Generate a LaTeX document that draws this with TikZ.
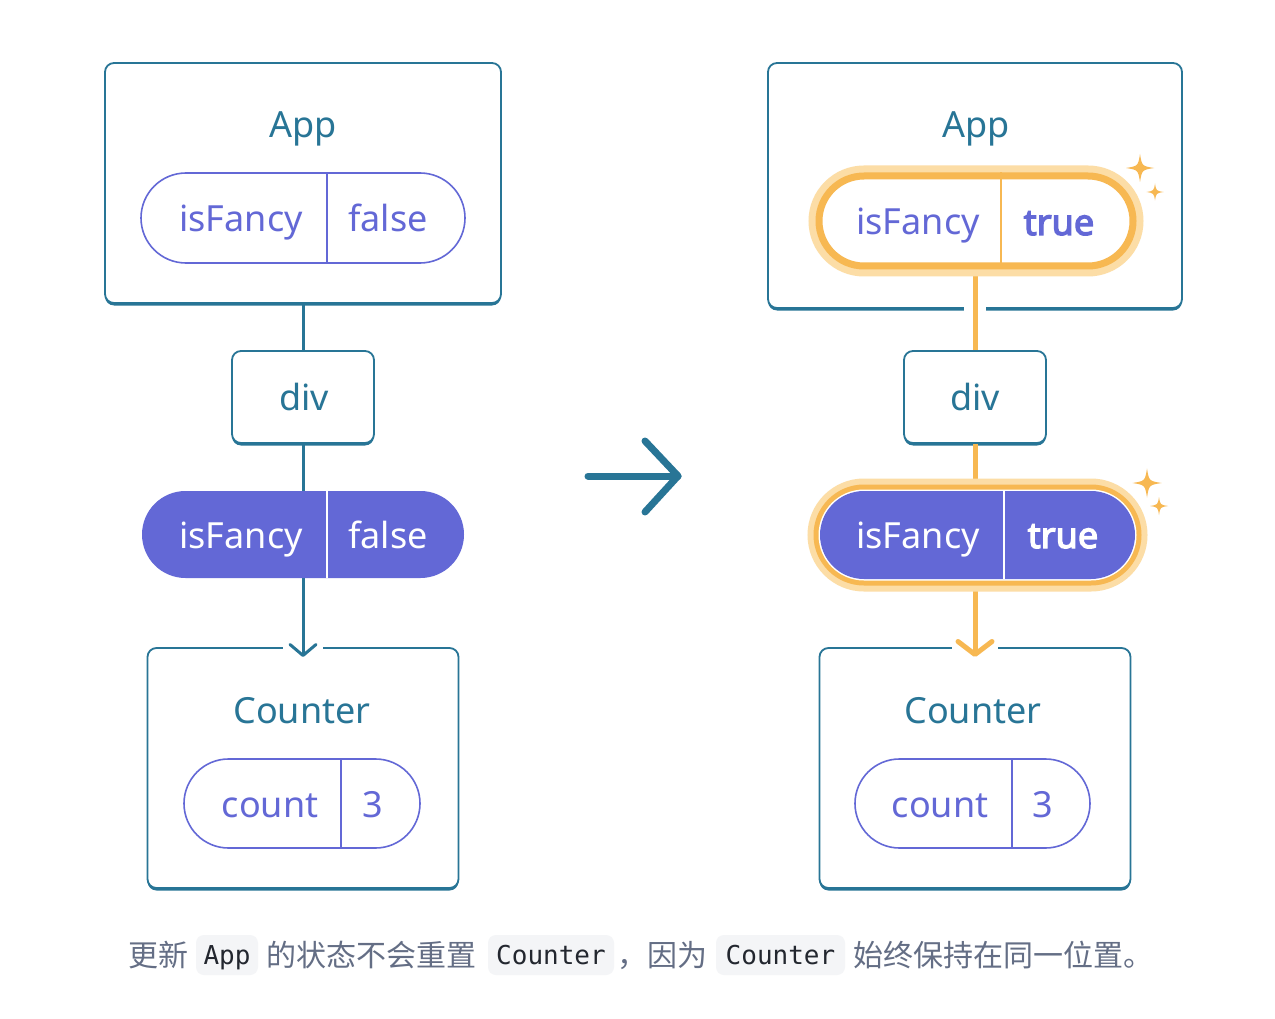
\documentclass[tikz,border=0pt]{standalone}
\usepackage{fontspec}
\setmainfont{Noto Sans}
\newfontfamily\boldlab{Noto Sans}[FakeBold=3.5]
\newfontfamily\cjkfont{Noto Sans CJK SC}
\newfontfamily\codefont{DejaVu Sans Mono}
\usetikzlibrary{shapes.misc,arrows.meta,shadows}
\definecolor{tblue}{RGB}{40,117,150}
\definecolor{tpurple}{RGB}{99,104,214}
\definecolor{torange}{RGB}{247,184,82}
\definecolor{tglow}{RGB}{252,221,166}
\definecolor{capgrey}{RGB}{100,110,133}
\definecolor{chipbg}{RGB}{244,245,247}
\definecolor{codetext}{RGB}{35,39,47}
\tikzset{
  box/.style={draw=tblue, fill=white, line width=1.8pt, rounded corners=9pt, inner sep=0pt,
    general shadow={fill=tblue, shadow yshift=-2.5pt}},
  lbl/.style={text=tblue, font=\fontsize{36}{40}\selectfont, inner sep=0pt, anchor=base},
  ptxt/.style={text=tpurple, font=\fontsize{36}{40}\selectfont, inner sep=0pt, anchor=base},
  wtxt/.style={text=white, font=\fontsize{36}{40}\selectfont, inner sep=0pt, anchor=base},
  btxt/.style={font=\boldlab\fontsize{36}{40}\selectfont},
  pill/.style={rounded rectangle, draw=tpurple, line width=1.6pt, fill=white, inner sep=0pt},
  fpill/.style={rounded rectangle, fill=tpurple, inner sep=0pt},
  conn/.style={draw=tblue, line width=3pt},
  oconn/.style={draw=torange, line width=5pt},
  captxt/.style={text=capgrey, font=\cjkfont\fontsize{30}{34}\selectfont, inner sep=0pt, anchor=base west},
  chip/.style={fill=chipbg, rounded corners=8pt, inner sep=0pt, minimum height=40pt,
    text=codetext, font=\codefont\fontsize{26}{30}\selectfont, text height=22pt, text depth=4pt},
  sparkle/.pic={\fill[torange] (0,-1) .. controls (0.14,-0.14) .. (1,0) .. controls (0.14,0.14) .. (0,1)
     .. controls (-0.14,0.14) .. (-1,0) .. controls (-0.14,-0.14) .. (0,-1) -- cycle;}
}
\begin{document}
\begin{tikzpicture}[x=1pt,y=-1pt]
\useasboundingbox[fill=white] (0,0) rectangle (1275,1019);

% ---------- boxes ----------
\node[box, minimum width=396pt, minimum height=240pt] (appL) at (303,183) {};
\node[box, minimum width=142pt, minimum height=92pt] (divL) at (303,397) {};
\node[box, minimum width=311pt, minimum height=240pt] (ctrL) at (303,768) {};
\node[box, minimum width=414pt, minimum height=245pt] (appR) at (975,185.5) {};
\node[box, minimum width=142pt, minimum height=92pt] (divR) at (975,397) {};
\node[box, minimum width=311pt, minimum height=240pt] (ctrR) at (975,768) {};

% gaps in box outlines
\fill[white] (283,643) rectangle (323,653);
\fill[white] (952,643) rectangle (998,653);
\fill[white] (964,302) rectangle (986,315);

% ---------- connectors ----------
\coordinate (tipL) at (303,657);
\coordinate (tipR) at (975,657);
\draw[conn] (appL.south) -- (divL.north);
\draw[conn] (divL.south) -- (303,491);
\draw[conn, -{Straight Barb[length=11pt, width=26pt, round]}] (303,578) -- (tipL);

\draw[oconn] (975,268) -- (divR.north);
\draw[oconn] (divR.south) -- (975,490);
\draw[oconn, -{Straight Barb[length=13pt, width=34pt, round]}] (975,585) -- (tipR);

% ---------- pills ----------
\node[pill, minimum width=324pt, minimum height=90pt] (pL1) at (303,218) {};
\draw[tpurple, line width=1.6pt] ([xshift=24pt]pL1.north) -- ([xshift=24pt]pL1.south);
\node[fpill, minimum width=322pt, minimum height=87pt] (pL2) at (303,534.5) {};
\draw[white, line width=2pt] ([xshift=24pt]pL2.north) -- ([xshift=24pt]pL2.south);
\node[pill, minimum width=236pt, minimum height=89pt] (cL) at (302,803.5) {};
\draw[tpurple, line width=1.6pt] ([xshift=39pt]cL.north) -- ([xshift=39pt]cL.south);

\node[rounded rectangle, inner sep=0pt, fill=white, draw=torange, line width=7pt,
      preaction={draw=tglow, line width=21pt},
      minimum width=314pt, minimum height=90pt] (pR1) at (976,221) {};
\draw[torange, line width=2pt] ([xshift=25pt]pR1.north) -- ([xshift=25pt]pR1.south);
\node[fpill, preaction={draw=tglow, line width=25pt}, preaction={draw=torange, line width=13pt},
      preaction={draw=white, line width=3pt},
      minimum width=315pt, minimum height=88pt] (pR2) at (977.5,535) {};
\draw[white, line width=2pt] ([xshift=26.5pt]pR2.north) -- ([xshift=26.5pt]pR2.south);
\node[pill, minimum width=235pt, minimum height=89pt] (cR) at (972.5,803.5) {};
\draw[tpurple, line width=1.6pt] ([xshift=39.5pt]cR.north) -- ([xshift=39.5pt]cR.south);

% sparkles
\pic[scale=14] at (1140,168) {sparkle};
\pic[scale=8.5] at (1155,192) {sparkle};
\pic[scale=14.5] at (1147,483) {sparkle};
\pic[scale=9] at (1159,506) {sparkle};

% ---------- texts ----------
\node[lbl] (tAppL) at (303,138) {App};
\node[ptxt] (tFL1) at (241,232) {isFancy};
\node[ptxt] (tVL1) at (388,232) {false};
\node[lbl] (tDivL) at (304,410) {div};
\node[wtxt] (tFL2) at (241,548) {isFancy};
\node[wtxt] (tVL2) at (388,548) {false};
\node[lbl] (tCtrL) at (302,723) {Counter};
\node[ptxt] (tCL) at (270,817) {count};
\node[ptxt] (tNL) at (373,817) {3};

\node[lbl] (tAppR) at (976,138) {App};
\node[ptxt] (tFR1) at (918,235) {isFancy};
\node[ptxt, btxt] (tVR1) at (1059,235) {true};
\node[lbl] (tDivR) at (975,410) {div};
\node[wtxt] (tFR2) at (918,548) {isFancy};
\node[wtxt, btxt] (tVR2) at (1063,548) {true};
\node[lbl] (tCtrR) at (973,723) {Counter};
\node[ptxt] (tCR) at (940,817) {count};
\node[ptxt] (tNR) at (1043,817) {3};

% ---------- big arrow ----------
\coordinate (bigA) at (588,476);
\coordinate (bigB) at (678,476);
\coordinate (bigC) at (645,441);
\coordinate (bigD) at (645,512);
\draw[tblue, line width=7pt, line cap=round, line join=round] (bigA) -- (bigB);
\draw[tblue, line width=7pt, line cap=round, line join=round] (bigC) -- (bigB) -- (bigD);

% ---------- caption ----------
\node[captxt] (c1) at (128,966) {更新};
\node[chip, minimum width=62pt] (k1) at (227,955) {App};
\node[captxt] (c2) at (266,966) {的状态不会重置};
\node[chip, minimum width=126pt] (k2) at (551,955) {Counter};
\node[captxt] (c3) at (617,966) {，因为};
\node[chip, minimum width=129pt] (k3) at (780.5,955) {Counter};
\node[captxt] (c4) at (853,966) {始终保持在同一位置。};
\end{tikzpicture}
\end{document}
